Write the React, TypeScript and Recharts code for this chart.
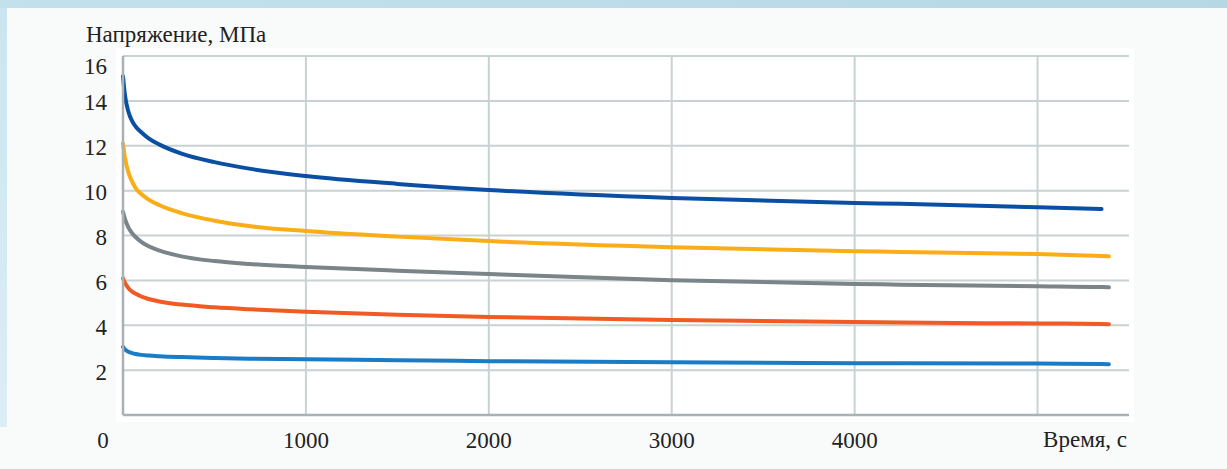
import { LineChart, Line, XAxis, YAxis, CartesianGrid } from "recharts";

// время, с
const times = [0, 10, 30, 50, 70, 100, 140, 200, 320, 500, 690, 1000, 1500, 2000, 3000, 4000, 4250, 5000, 5350, 5390];
// напряжение, МПа
const s15 = [15.1, 14.3, 13.5, 13.1, 12.85, 12.6, 12.33, 12.05, 11.65, 11.27, 10.98, 10.65, 10.3, 10.03, 9.67, 9.45, 9.41, 9.26, 9.18, null];
const s12 = [12.1, 11.5, 10.8, 10.4, 10.1, 9.85, 9.6, 9.35, 9.0, 8.66, 8.42, 8.2, 7.95, 7.75, 7.48, 7.3, 7.27, 7.17, 7.09, 7.08];
const s9 = [9.06, 8.75, 8.35, 8.1, 7.92, 7.72, 7.52, 7.33, 7.07, 6.86, 6.73, 6.6, 6.43, 6.28, 6.01, 5.84, 5.81, 5.74, 5.7, 5.69];
const s6 = [6.09, 5.9, 5.65, 5.5, 5.4, 5.28, 5.17, 5.06, 4.92, 4.8, 4.71, 4.6, 4.47, 4.37, 4.23, 4.14, 4.12, 4.08, 4.06, 4.05];
const s3 = [3.04, 2.93, 2.82, 2.76, 2.72, 2.68, 2.65, 2.62, 2.58, 2.54, 2.51, 2.49, 2.44, 2.4, 2.35, 2.31, 2.31, 2.29, 2.27, 2.26];

const yTicks = [0, 2, 4, 6, 8, 10, 12, 14, 16];
const xTicks = [0, 1000, 2000, 3000, 4000, 5000];

const series = [
  { key: "s15", color: "#0b4fa3" },
  { key: "s12", color: "#fbad18" },
  { key: "s9", color: "#7b8488" },
  { key: "s6", color: "#f15a22" },
  { key: "s3", color: "#1a7bc6" },
];

const data = times.map((t, i) => ({ t, s15: s15[i], s12: s12[i], s9: s9[i], s6: s6[i], s3: s3[i] }));

const font = "'Liberation Serif', 'Times New Roman', serif";
const grid = "#c9d2d3";
const axis = "#a8b2b4";

const YTick = ({ x, y, payload }: any) => {
  if (payload.value === 0) return null;
  const off = payload.value === 16 ? 10 : 2;
  return (
    <text x={x} y={y + off} textAnchor="end" dominantBaseline="central" fontSize={23} fill="#222" fontFamily={font}>
      {payload.value}
    </text>
  );
};

const XTick = ({ x, y, payload }: any) => {
  if (payload.value === 5000) return null;
  const dx = payload.value === 0 ? -20 : 0;
  return (
    <text x={x + dx} y={y} textAnchor="middle" dominantBaseline="central" fontSize={23} fill="#222" fontFamily={font}>
      {payload.value}
    </text>
  );
};

export default function App() {
  return (
    <div style={{ position: "absolute", left: 0, top: 0, width: 1227, height: 469, background: "#f9fbfb", overflow: "hidden" }}>
      <div style={{ position: "absolute", left: 0, top: 0, width: 1227, height: 8, background: "linear-gradient(90deg, #c2e1ec, #b6d8e5)" }} />
      <div style={{ position: "absolute", left: 0, top: 8, width: 7, height: 419, background: "linear-gradient(180deg, #cbe5f0, #dcedf5)" }} />
      <div style={{ position: "absolute", left: 116, top: 48, width: 1018, height: 374, background: "#ffffff" }} />
      <div style={{ position: "absolute", left: 86, top: 20, fontSize: 23, fontFamily: font, color: "#222", lineHeight: "30px" }}>
        Напряжение, МПа
      </div>
      <div style={{ position: "absolute", left: 980, width: 147, top: 425, textAlign: "right", fontSize: 23, fontFamily: font, color: "#222", lineHeight: "30px" }}>
        Время, с
      </div>
      <div style={{ position: "absolute", left: 0, top: 0 }}>
        <LineChart width={1227} height={469} data={data} margin={{ top: 56, right: 98, bottom: 24, left: 3 }}>
          <CartesianGrid stroke={grid} strokeWidth={2} horizontalValues={yTicks} verticalValues={xTicks} />
          <XAxis
            dataKey="t"
            type="number"
            domain={[0, 5500]}
            ticks={xTicks}
            tick={<XTick />}
            tickLine={false}
            tickSize={0}
            tickMargin={25}
            height={30}
            axisLine={{ stroke: axis, strokeWidth: 2.5 }}
          />
          <YAxis
            type="number"
            domain={[0, 16]}
            ticks={yTicks}
            tick={<YTick />}
            tickLine={false}
            tickSize={0}
            tickMargin={16}
            width={120}
            axisLine={{ stroke: axis, strokeWidth: 2.5 }}
          />
          {series.map((s) => (
            <Line
              key={s.key}
              type="monotone"
              dataKey={s.key}
              stroke={s.color}
              strokeWidth={4}
              strokeLinecap="round"
              dot={false}
              activeDot={false}
              isAnimationActive={false}
            />
          ))}
        </LineChart>
      </div>
    </div>
  );
}
